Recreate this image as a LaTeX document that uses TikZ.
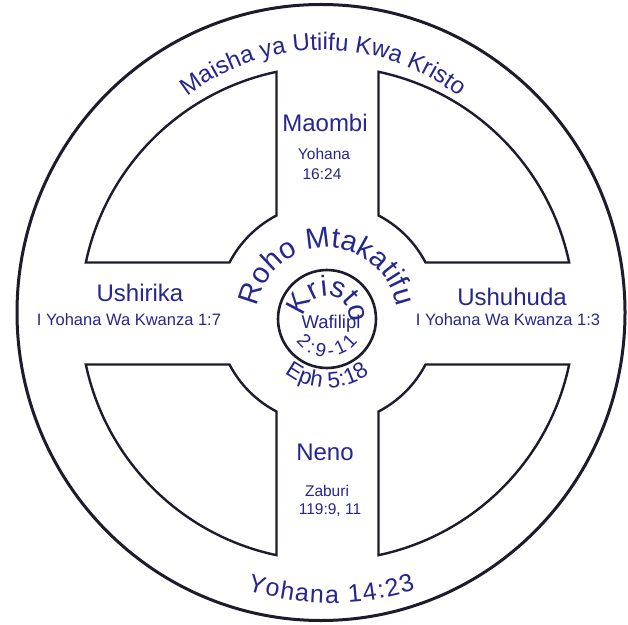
\documentclass[tikz,border=0pt]{standalone}
\usepackage{fontspec}
\setmainfont{Liberation Sans}
\usetikzlibrary{decorations.text,calc}
\definecolor{txt}{RGB}{38,38,140}
\definecolor{ln}{RGB}{28,28,45}
\begin{document}
\begin{tikzpicture}[x=1pt,y=1pt,
  panel/.style={draw=ln, line width=2.4pt, line join=miter},
  lbl/.style={text=txt, inner sep=0pt, anchor=base},
  big/.style={lbl, font=\fontsize{24}{24}\selectfont},
  mid/.style={lbl, font=\fontsize{16.5}{16.5}\selectfont},
  small/.style={lbl, font=\fontsize{15.5}{15.5}\selectfont},
  wf/.style={lbl, font=\fontsize{18.5}{18.5}\selectfont}
]
\useasboundingbox (0,0) rectangle (628,624);
\fill[white] (0,0) rectangle (628,624);
% outer wheel
\draw[ln, line width=3pt] (321,311.5) ellipse [x radius=304, y radius=308];
% centres
\coordinate (C) at (327.5,310.5);
\coordinate (K) at (327,305);
\coordinate (T) at (323,354);
\coordinate (B) at (331,299);
% four panels between rim, spokes and hub
\foreach \a in {0,90,180,270}{
  \draw[panel] ($(C)+(\a+101.92:247)$)
    arc[start angle=\a+101.92, end angle=\a+168.08, radius=247]
    -- ($(C)+(\a+152.51:110.5)$)
    arc[start angle=\a+152.51, end angle=\a+117.49, radius=110.5]
    -- cycle;
}
% Kristo circle
\draw[ln, line width=2.6pt] (K) circle[radius=49];
% curved texts
\path[decorate, decoration={text along path,
  text={|\fontsize{24}{24}\selectfont\color{txt}|Maisha ya Utiifu Kwa Kristo},
  text align={fit to path}}]
  ($(T)+(128:220)$) arc[start angle=128, end angle=52, radius=220];
\path[decorate, decoration={text along path,
  text={|\fontsize{25}{25}\selectfont\color{txt}|Yohana 14:23},
  text align={fit to path}}]
  ($(B)+(252.4:278)$) arc[start angle=252.4, end angle=287.7, radius=278];
\path[decorate, decoration={text along path,
  text={|\fontsize{29}{29}\selectfont\color{txt}|Roho Mtakatifu},
  text align={fit to path}}]
  ($(K)+(170:71)$) arc[start angle=170, end angle=10, radius=71];
\path[decorate, decoration={text along path,
  text={|\fontsize{29}{29}\selectfont\color{txt}|Kristo},
  text align={fit to path}}]
  ($(K)+(176:23)$) arc[start angle=176, end angle=8, radius=23];
\path[decorate, decoration={text along path,
  text={|\fontsize{19}{19}\selectfont\color{txt}|2:9-11},
  text align={fit to path}}]
  ($(K)+(216:38)$) arc[start angle=216, end angle=324, radius=38];
\path[decorate, decoration={text along path,
  text={|\fontsize{22.5}{22.5}\selectfont\color{txt}|Eph 5:18},
  text align={fit to path}}]
  ($(K)+(232:69)$) arc[start angle=232, end angle=308, radius=69];
% straight labels
\node[big] (maombi) at (325,492) {Maombi};
\node[small] (yoh1) at (324,464) {Yohana};
\node[small] (v1) at (322,444) {16:24};
\node[big] (ushirika) at (140,322) {Ushirika};
\node[mid] (v2) at (129,298) {I Yohana Wa Kwanza 1:7};
\node[big] (ushuhuda) at (512,318) {Ushuhuda};
\node[mid] (v3) at (508,298) {I Yohana Wa Kwanza 1:3};
\node[big] (neno) at (325,164) {Neno};
\node[small] (zab) at (327,128) {Zaburi};
\node[small] (v4) at (330,110) {119:9, 11};
\node[wf] (waf) at (331,295) {Wafilipi};
\end{tikzpicture}
\end{document}
